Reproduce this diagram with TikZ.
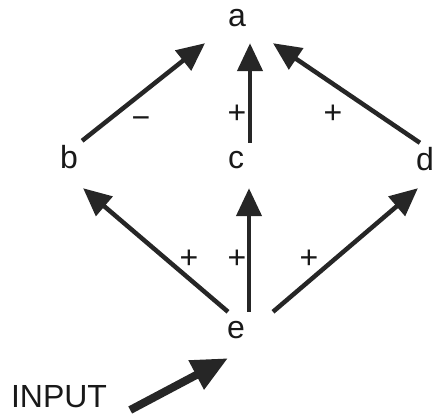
\documentclass[tikz,border=0pt]{standalone}
\usepackage{fontspec}
\setmainfont{Liberation Sans}
\usetikzlibrary{arrows.meta, positioning}

\begin{document}
\begin{tikzpicture}[x=1pt, y=1pt,
        var/.style={inner sep=0pt, anchor=base, text height=23pt, text depth=0pt,
            font=\fontsize{32}{38}\selectfont, text=black!90},
        sgn/.style={inner sep=0pt, font=\fontsize{32}{38}\selectfont, text=black!90},
        edge/.style={line width=4.5pt, black!85, -{Triangle[length=28pt, width=25pt]}},
        feed/.style={line width=8pt, black!85, -{Triangle[length=36pt, width=31pt]}}]
        \useasboundingbox (0,0) rectangle (433,416);

        \node[var] (a) at (237,389) {a};
        \node[var] (b) at (69,248) {b};
        \node[var] (c) at (236,248) {c};
        \node[var] (d) at (425,246) {d};
        \node[var] (e) at (236,78) {e};
        \node[var] (input) at (59,9) {INPUT};

        % upper layer
        \draw[edge] ([shift={(4,4)}]b.north east) -- ([shift={(-32,-16)}]a.south);
        \draw[edge] ([shift={(14,2)}]c.north) -- ([shift={(13,-16)}]a.south);
        \draw[edge] ([shift={(4,4)}]d.north west) -- ([shift={(36,-16)}]a.south);

        % lower layer
        \draw[edge] ([shift={(-8,3)}]e.north) -- ([shift={(5,-20)}]b.south east);
        \draw[edge] ([shift={(13,3)}]e.north) -- ([shift={(13,-20)}]c.south);
        \draw[edge] ([shift={(37,3)}]e.north) -- ([shift={(2,-18)}]d.south west);

        \draw[feed] ([shift={(23,-3)}]input.base east) -- ([shift={(-8,-20)}]e.south);

        % signs
        \node[sgn] (sba) at (141,293) {−};
        \node[sgn] (sca) at (237,302) {+};
        \node[sgn] (sda) at (333,302) {+};
        \node[sgn] (seb) at (189,157) {+};
        \node[sgn] (sec) at (237,157) {+};
        \node[sgn] (sed) at (309,157) {+};
    \end{tikzpicture}
\end{document}
